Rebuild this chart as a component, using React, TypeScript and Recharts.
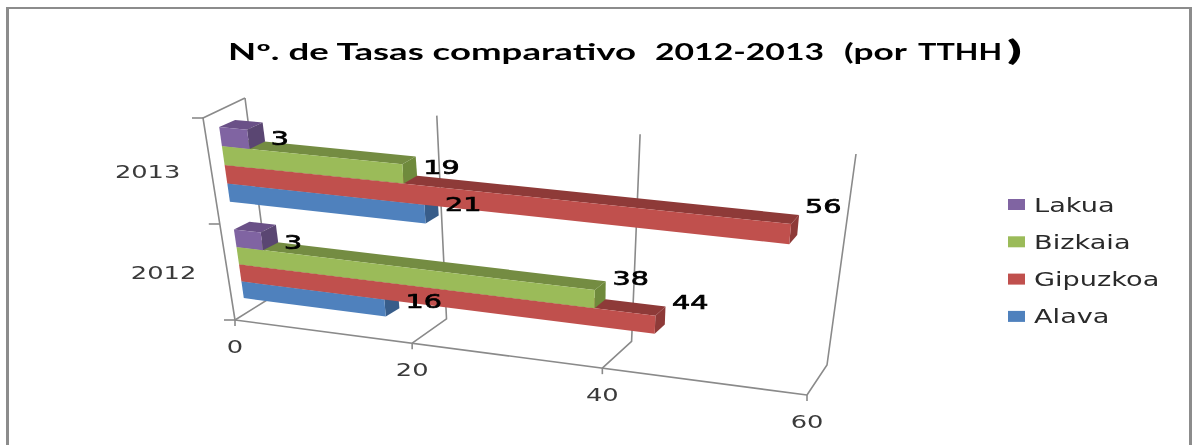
import React from "react";
import { BarChart, Bar, XAxis, YAxis, CartesianGrid, LabelList, Legend } from "recharts";

const years = ["2012", "2013"];
const alava = [16, 21];
const gipuzkoa = [44, 56];
const bizkaia = [38, 19];
const lakua = [3, 3];
const valueTicks = [0, 20, 40, 60];

const WIDTH = 1192;
const HEIGHT = 445;
const GREY = "#8a8a8a";
const FONT = "'DejaVu Sans', sans-serif";
const TITLE_FONT = "Lato, sans-serif";
const STRETCH = 1.43;

type Pt = [number, number];

// unit square -> quad (TL, TR, BR, BL)
const homography = (p0: Pt, p1: Pt, p2: Pt, p3: Pt) => {
  const dx1 = p1[0] - p2[0];
  const dx2 = p3[0] - p2[0];
  const sx = p0[0] - p1[0] + p2[0] - p3[0];
  const dy1 = p1[1] - p2[1];
  const dy2 = p3[1] - p2[1];
  const sy = p0[1] - p1[1] + p2[1] - p3[1];
  const den = dx1 * dy2 - dx2 * dy1;
  const g = (sx * dy2 - dx2 * sy) / den;
  const h = (dx1 * sy - sx * dy1) / den;
  const a = p1[0] - p0[0] + g * p1[0];
  const b = p3[0] - p0[0] + h * p3[0];
  const d = p1[1] - p0[1] + g * p1[1];
  const e = p3[1] - p0[1] + h * p3[1];
  return (u: number, v: number): Pt => {
    const q = g * u + h * v + 1;
    return [(a * u + b * v + p0[0]) / q, (d * u + e * v + p0[1]) / q];
  };
};

// the box walls
const wallFront = homography([203, 118], [838, 176], [807, 395], [235, 320]);
const wallBack = homography([245, 98], [856, 154], [827, 365], [271, 297.5]);
// the front and back planes the bars lie in
const barFront = homography([217, 112], [843, 171], [818.5, 387], [245.7, 311]);
const barBack = homography([233, 105], [850, 162], [826.5, 377], [261, 303]);

// axes need 1px to be drawn at all, so the flat plot is 1px smaller than the chart
const toU = (x: number) => (x - 1) / (WIDTH - 1);
const toV = (y: number) => 1 - y / (HEIGHT - 1);

const poly = (pts: Pt[]) => pts.map((p) => p[0].toFixed(1) + "," + p[1].toFixed(1)).join(" ");

const WideText = ({ x, y, size, fill, anchor, stroke, children }: any) => (
  <text
    transform={`translate(${x},${y}) scale(${STRETCH},1)`}
    fontFamily={FONT}
    fontSize={size}
    fill={fill}
    textAnchor={anchor}
    stroke={stroke}
    strokeWidth={stroke ? 0.7 : 0}
  >
    {children}
  </text>
);

const makeBarShape = (front: string, top: string, side: string) => (props: any) => {
  const { x, y, width, height } = props;
  const u = toU(x + width);
  const u0 = toU(x);
  const vTop = toV(y + height);
  const vBot = toV(y);
  return (
    <g>
      <polygon points={poly([barFront(u0, vTop), barFront(u, vTop), barBack(u, vTop), barBack(u0, vTop)])} fill={top} />
      <polygon points={poly([barFront(u, vTop), barFront(u, vBot), barBack(u, vBot), barBack(u, vTop)])} fill={side} />
      <polygon points={poly([barFront(u0, vTop), barFront(u, vTop), barFront(u, vBot), barFront(u0, vBot)])} fill={front} />
    </g>
  );
};

// hand-placed in the source chart, so they do not follow the bar ends exactly
const labelDy: Record<string, number[]> = {
  Alava: [1, -2],
  Gipuzkoa: [-14, -19],
  Bizkaia: [-12, 1],
  Lakua: [8, 6],
};

const makeLabel = (series: string) => (props: any) => {
  const { x, y, width, height, value, index } = props;
  const u = toU(x + width);
  const [px, py] = barBack(u, toV(y + height / 2));
  const half = String(value).length * 9;
  return (
    <WideText x={px + 7 + half} y={py + 7 + labelDy[series][index]} size={20} fill="#000" anchor="middle" stroke="#000">
      {value}
    </WideText>
  );
};

const GridLine = (props: any) => {
  const u = toU(props.x1);
  const isZero = u < 0.001;
  const bands = years.map((_, i) => i).concat(years.length);
  return (
    <g fill="none" stroke={GREY} strokeWidth={1.6}>
      <polyline points={poly([wallFront(u, 1), wallBack(u, 1), wallBack(u, 0)])} />
      {isZero && (
        <>
          <polyline points={poly([wallFront(0, 1), wallFront(0, 0), wallBack(0, 0)])} />
          <polyline points={poly([wallFront(0, 1), wallFront(1, 1)])} />
          {bands.map((i) => {
            const p = wallFront(0, i / years.length);
            return <line key={i} x1={p[0] - 11} y1={p[1]} x2={p[0]} y2={p[1]} />;
          })}
        </>
      )}
    </g>
  );
};

const ValueTick = (props: any) => {
  const { x, payload } = props;
  const [px, py] = wallFront(toU(x), 1);
  return (
    <g>
      <line x1={px} y1={py} x2={px} y2={py + 6} stroke={GREY} strokeWidth={1.6} />
      <WideText x={px} y={py + 33} size={18} fill="#3a3a3a" anchor="middle">
        {payload.value}
      </WideText>
    </g>
  );
};

const YearTick = (props: any) => {
  const { y, payload } = props;
  const [px, py] = wallFront(0, toV(y));
  return (
    <WideText x={px - 64} y={py + 6} size={18} fill="#3a3a3a" anchor="middle">
      {payload.value}
    </WideText>
  );
};

const LegendBox = ({ payload }: any) => (
  <svg width={178} height={150} style={{ display: "block", overflow: "visible" }}>
    {[...(payload || [])].reverse().map((item: any, i: number) => (
      <g key={item.value}>
        <rect x={0} y={3 + i * 37.3} width={17} height={11} fill={item.color} />
        <WideText x={26} y={16 + i * 37} size={19} fill="#2a2a2a" anchor="start">
          {item.value}
        </WideText>
      </g>
    ))}
  </svg>
);

const chartData = years.map((year, i) => ({
  year,
  Alava: alava[i],
  Gipuzkoa: gipuzkoa[i],
  Bizkaia: bizkaia[i],
  Lakua: lakua[i],
}));

const seriesList = [
  { key: "Alava", front: "#4F81BD", top: "#3F6797", side: "#385D8A" },
  { key: "Gipuzkoa", front: "#C0504D", top: "#8E3A38", side: "#8E3A38" },
  { key: "Bizkaia", front: "#9BBB59", top: "#748C42", side: "#6F8A3C" },
  { key: "Lakua", front: "#8064A2", top: "#6A5087", side: "#5A4672" },
];

// title runs: text, left edge, width on the page
const titleRuns: [string, number, number][] = [
  ["Nº. de Tasas comparativo", 228, 408],
  ["2012-2013", 655, 169],
  ["(por", 844, 63],
  ["TTHH", 918, 84],
];

export default function App() {
  return (
    <div style={{ position: "absolute", left: 0, top: 0, width: WIDTH, height: HEIGHT, background: "#fff", overflow: "hidden" }}>
      <div style={{ position: "absolute", left: 6, top: 7, width: 1180, height: 460, borderLeft: "3px solid #8c8c8c", borderRight: "3px solid #8c8c8c", borderTop: "2px solid #8c8c8c" }} />
      <div style={{ position: "absolute", left: 0, top: 0, filter: "blur(0.5px)" }}>
        <BarChart
          width={WIDTH}
          height={HEIGHT}
          data={chartData}
          layout="vertical"
          barGap={0}
          barCategoryGap="14%"
          margin={{ top: 0, right: 0, bottom: 0, left: 0 }}
        >
          <CartesianGrid horizontal={false} vertical={(p: any) => <GridLine key={p.key} {...p} />} />
          <XAxis type="number" domain={[0, 60]} ticks={valueTicks} height={1} axisLine={false} tickLine={false} tick={ValueTick} interval={0} />
          <YAxis type="category" dataKey="year" width={1} axisLine={false} tickLine={false} tick={YearTick} interval={0} />
          <Legend
            layout="horizontal"
            verticalAlign="middle"
            align="center"
            itemSorter={null}
            content={LegendBox}
            wrapperStyle={{ position: "absolute", left: 1008, top: 196, width: 178, height: 150 }}
          />
          {seriesList.map((s) => (
            <Bar key={s.key} dataKey={s.key} fill={s.front} isAnimationActive={false} shape={makeBarShape(s.front, s.top, s.side)}>
              <LabelList dataKey={s.key} content={makeLabel(s.key)} />
            </Bar>
          ))}
          {titleRuns.map(([run, x, len]) => (
            <text key={run} x={x} y={60} textLength={len} lengthAdjust="spacingAndGlyphs" fontFamily={TITLE_FONT} fontWeight={700} fontSize={22} fill="#000">
              {run}
            </text>
          ))}
          <text x={1008} y={60} textLength={13} lengthAdjust="spacingAndGlyphs" fontFamily={TITLE_FONT} fontWeight={700} fontSize={27} fill="#000" stroke="#000" strokeWidth={1}>
            )
          </text>
        </BarChart>
      </div>
    </div>
  );
}
